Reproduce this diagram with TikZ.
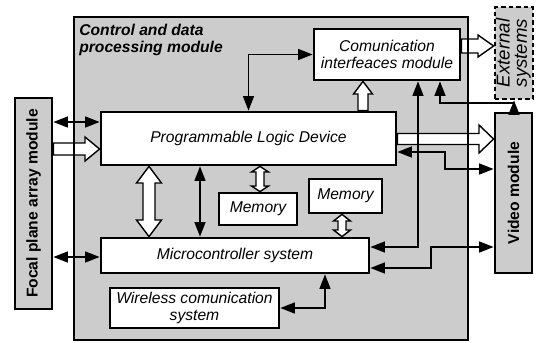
\documentclass[tikz,border=0pt]{standalone}
\usepackage{fontspec}
\setmainfont{Liberation Sans}
\usetikzlibrary{arrows.meta}
\definecolor{modfill}{HTML}{CCCCCC}

\begin{document}
\begin{tikzpicture}[x=0.2mm,y=-0.2mm,>={Triangle[length=2.9mm,width=2.2mm]},
  font=\fontsize{8.9}{9.8}\selectfont,
  blk/.style={draw,line width=1.6pt,fill=white,inner sep=0pt,font=\fontsize{8.9}{9.8}\selectfont\itshape,align=center},
  mod/.style={draw,line width=1.6pt,fill=modfill,inner sep=0pt},
  conn/.style={<->,line width=0.8pt},
  fat/.style={draw,fill=white,line width=0.8pt}]
\useasboundingbox (0,0) rectangle (537,342);
\node[fill=modfill,inner sep=0pt,outer sep=0pt,minimum width=7.88cm,minimum height=6.46cm] (ctrl) at (271,178.5) {};
\node[font=\fontsize{8.9}{9.8}\selectfont\bfseries\itshape,align=left,anchor=north west,inner sep=0pt] (ctrltitle) at (79,23.5) {Control and data\\processing module};
\node[mod,minimum width=0.74cm,minimum height=4.22cm] (fpa) at (33.5,203.5) {\rotatebox{90}{\bfseries Focal plane array module}};
\node[mod,minimum width=0.74cm,minimum height=3.2cm] (video) at (513.5,193) {\rotatebox{90}{\bfseries Video module}};
\node[mod,dash pattern=on 0.9mm off 0.6mm,minimum width=0.76cm,minimum height=1.84cm] (ext) at (514,53) {\rotatebox{90}{\fontsize{10.6}{9.6}\selectfont\itshape\begin{tabular}{@{}c@{}}External\\systems\end{tabular}}};
\node[blk,minimum width=2.92cm,minimum height=1.02cm] (comm) at (387,54.5) {Comunication\\interfeaces module};
\node[blk,minimum width=5.9cm,minimum height=1.06cm] (pld) at (248.5,138.5) {Programmable Logic Device};
\node[blk,minimum width=5.36cm,minimum height=0.7cm] (mcu) at (235,255.5) {Microcontroller system};
\node[blk,minimum width=3.38cm,minimum height=0.8cm] (wcs) at (194.5,308) {Wireless comunication\\system};
\node[blk,minimum width=1.56cm,minimum height=0.64cm] (mem1) at (258,209) {Memory};
\node[blk,minimum width=1.46cm,minimum height=0.68cm] (mem2) at (345.5,196) {Memory};
\draw[fat] (fpa.east |- 0,143) -- (85,143) -- (85,137) -- (pld.west |- 0,149) -- (85,161) -- (85,155) -- (fpa.east |- 0,155) -- cycle;
\draw[fat] (pld.east |- 0,133.5) -- (479,133.5) -- (479,125) -- (video.west |- 0,139) -- (479,153) -- (479,144.5) -- (pld.east |- 0,144.5) -- cycle;
\draw[fat] (comm.east |- 0,39) -- (478,39) -- (478,35) -- (ext.west |- 0,46) -- (478,57) -- (478,53) -- (comm.east |- 0,53) -- cycle;
\draw[fat] (pld.north -| 358,0) -- (358,94) -- (353.5,94) -- (comm.south -| 363,0) -- (372.5,94) -- (368,94) -- (pld.north -| 368,0) -- cycle;
\draw[fat] (pld.south -| 149,0) -- (161.5,183) -- (155,183) -- (155,220) -- (161.5,220) -- (mcu.north -| 149,0) -- (136.5,220) -- (143,220) -- (143,183) -- (136.5,183) -- cycle;
\draw[fat] (pld.south -| 260,0) -- (268.5,172) -- (264,172) -- (264,186) -- (268.5,186) -- (mem1.north -| 260,0) -- (251.5,186) -- (256,186) -- (256,172) -- (251.5,172) -- cycle;
\draw[fat] (mem2.south -| 342,0) -- (350.5,221) -- (346,221) -- (346,230) -- (350.5,230) -- (mcu.north -| 342,0) -- (333.5,230) -- (338,230) -- (338,221) -- (333.5,221) -- cycle;
\draw[line width=1.6pt] (ctrl.north west) rectangle (ctrl.south east);
\draw[conn] (fpa.east |- 0,122) -- (pld.west |- 0,122);
\draw[conn] (fpa.east |- 0,257) -- (mcu.west |- 0,257);
\draw[conn] (pld.south -| 200,0) -- (mcu.north -| 200,0);
\draw[conn] (pld.north) |- (comm.west);
\draw[conn] (mcu.east |- 0,247) -| (comm.south -| 418,0);
\draw[conn] (comm.south -| 440,0) |- (ext.south |- 0,103) -- (ext.south);
\draw[conn] (pld.east |- 0,152) -| (445,169) -- (video.west |- 0,169);
\draw[conn] (mcu.east |- 0,268) -| (431,247) -- (video.west |- 0,247);
\draw[conn] (wcs.east) -| (mcu.south -| 325,0);
\end{tikzpicture}
\end{document}
